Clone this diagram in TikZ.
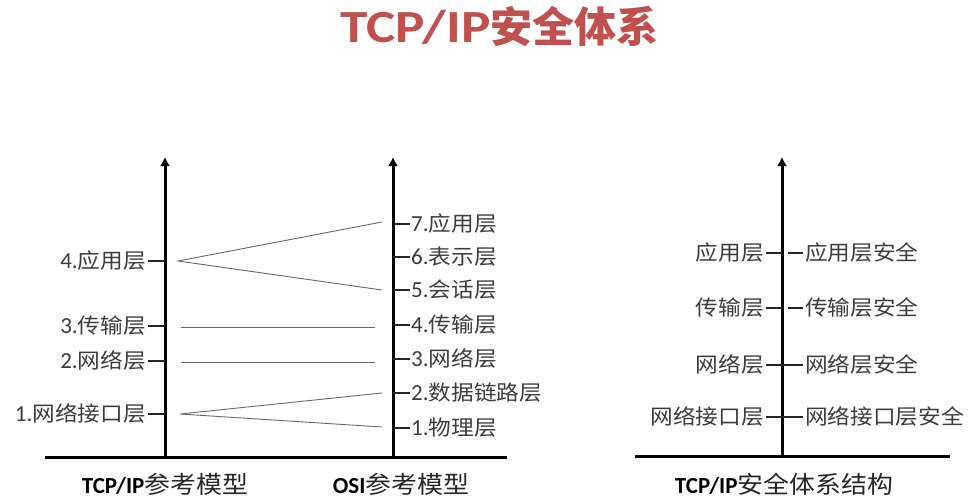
\documentclass[tikz,border=0pt]{standalone}
\usepackage{fontspec}
\setmainfont{Carlito}
\newfontfamily\cjk{Noto Sans CJK SC}[FakeStretch=1.08]
\newfontfamily\cjkt{Noto Sans CJK SC}
\newfontfamily\titlelat{Carlito}[FakeStretch=1.2]
\usetikzlibrary{arrows.meta}
\definecolor{titlered}{RGB}{192,80,77}
\definecolor{labelgray}{RGB}{60,60,60}
\definecolor{linegray}{RGB}{105,105,105}
\newcommand{\cjks}{\cjk\fontsize{21}{21}\selectfont}
\tikzset{
  axisline/.style={line width=3pt, -{Latex[length=9pt,width=10pt]}},
  groundline/.style={line width=3pt},
  tickline/.style={line width=1.6pt, draw=black!85},
  linkline/.style={line width=0.9pt, draw=linegray},
  lbl/.style={inner sep=0pt, text=labelgray, font=\fontsize{23}{23}\selectfont},
  foot/.style={inner sep=0pt, anchor=base, font=\fontsize{23}{23}\selectfont},
}
\begin{document}
\begin{tikzpicture}[x=1pt,y=-1pt]
\useasboundingbox (0,0) rectangle (979,500);

% title
\node[inner sep=0pt, anchor=base west, text=titlered] (title) at (340,43)
  {{\titlelat\bfseries\fontsize{46}{46}\selectfont TCP/IP}{\cjkt\bfseries\fontsize{42}{42}\selectfont 安全体系}};

% ---------- TCP/IP reference model axis ----------
\coordinate (Lbot) at (165,457);
\coordinate (Ltop) at (165,157);
\coordinate (Lg1) at (45,457);
\coordinate (Lg2) at (507,457);
\draw[groundline] (Lg1) -- (Lg2);
\draw[axisline] (Lbot) -- (Ltop);

% ---------- OSI axis ----------
\coordinate (Obot) at (393,457);
\coordinate (Otop) at (393,157);
\draw[axisline] (Obot) -- (Otop);

% left ticks and labels
\foreach \n/\y/\t in {L4/261/{4.\cjks 应用层}, L3/326/{3.\cjks 传输层}, L2/361/{2.\cjks 网络层}, L1/414/{1.\cjks 网络接口层}}{
  \coordinate (\n a) at (148,\y);
  \coordinate (\n b) at (165,\y);
  \draw[tickline] (\n a) -- (\n b);
  \node[lbl, anchor=base east] (\n lab) at (146,\y+7) {\t};
}

% OSI ticks and labels
\foreach \n/\y/\t in {O7/224/{7.\cjks 应用层}, O6/257/{6.\cjks 表示层}, O5/290/{5.\cjks 会话层}, O4/325/{4.\cjks 传输层}, O3/359/{3.\cjks 网络层}, O2/393/{2.\cjks 数据链路层}, O1/428/{1.\cjks 物理层}}{
  \coordinate (\n a) at (393,\y);
  \coordinate (\n b) at (410,\y);
  \draw[tickline] (\n a) -- (\n b);
  \node[lbl, anchor=base west] (\n lab) at (411,\y+7) {\t};
}

% mapping lines
\coordinate (apA) at (178,261);
\coordinate (e7) at (382,222);
\coordinate (e5) at (382,290);
\draw[linkline] (e7) -- (apA) -- (e5);
\coordinate (h3a) at (181,327);
\coordinate (h3b) at (375,327);
\draw[linkline] (h3a) -- (h3b);
\coordinate (h2a) at (181,362);
\coordinate (h2b) at (375,362);
\draw[linkline] (h2a) -- (h2b);
\coordinate (apB) at (180,414);
\coordinate (e2) at (382,393);
\coordinate (e1) at (382,427);
\draw[linkline] (e2) -- (apB) -- (e1);

% footers left
\node[foot] (footL) at (165,493) {{\bfseries TCP/IP}{\cjk\fontsize{24}{24}\selectfont\color{black!85}参考模型}};
\node[foot] (footO) at (401,493) {{\bfseries OSI}{\cjk\fontsize{24}{24}\selectfont\color{black!85}参考模型}};

% ---------- security architecture ----------
\coordinate (Rbot) at (782,456);
\coordinate (Rtop) at (782,157);
\coordinate (Rg1) at (635,456);
\coordinate (Rg2) at (950,456);
\draw[groundline] (Rg1) -- (Rg2);
\draw[axisline] (Rbot) -- (Rtop);

\foreach \n/\y/\gap/\tl/\tr in {S4/253/6/应用层/应用层安全, S3/308/6/传输层/传输层安全, S2/365/0/网络层/网络层安全, S1/417/0/网络接口层/网络接口层安全}{
  \coordinate (\n a) at (766,\y);
  \coordinate (\n b) at (782,\y);
  \coordinate (\n c) at (782+\gap,\y);
  \coordinate (\n d) at (803,\y);
  \draw[tickline] (\n a) -- (\n b);
  \draw[tickline] (\n c) -- (\n d);
  \node[lbl, anchor=base east] (\n l) at (764,\y+7) {\cjks \tl};
  \node[lbl, anchor=base west] (\n r) at (805,\y+7) {\cjks \tr};
}

\node[foot] (footR) at (784,493) {{\bfseries TCP/IP}{\cjk\fontsize{24}{24}\selectfont\color{black!85}安全体系结构}};
\end{tikzpicture}
\end{document}
